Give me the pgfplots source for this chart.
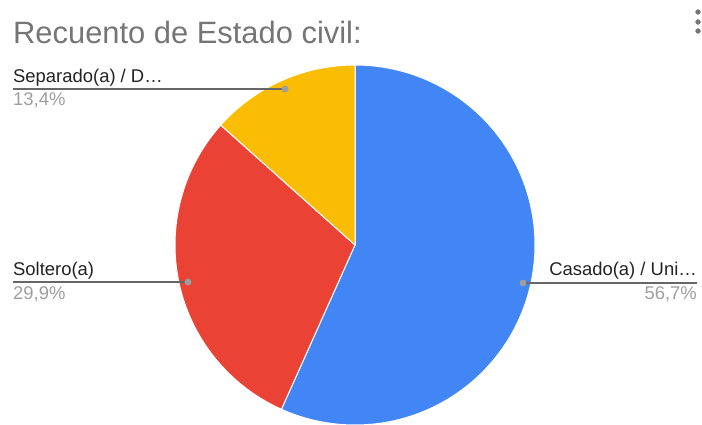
\documentclass[border=0pt]{standalone}
\usepackage{pgfplots}
\pgfplotsset{compat=1.18}
\usepackage{pgfplotstable}
\usepackage{fontspec}
\setmainfont{Liberation Sans}

\definecolor{cblue}{HTML}{4285F4}
\definecolor{cred}{HTML}{EA4335}
\definecolor{cyellow}{HTML}{FBBC04}
\definecolor{ctitle}{HTML}{757575}
\definecolor{clabel}{HTML}{222222}
\definecolor{cpct}{HTML}{9E9E9E}
\definecolor{cline}{HTML}{666666}

% share of each civil status (%)
\pgfplotstableread{
label    pct
Casado   56.7
Soltero  29.9
Separado 13.4
}\civil

\begin{document}
\begin{tikzpicture}
\pgfplotstablegetelem{0}{pct}\of\civil \let\pA\pgfplotsretval
\pgfplotstablegetelem{1}{pct}\of\civil \let\pB\pgfplotsretval
\pgfplotstablegetelem{2}{pct}\of\civil \let\pC\pgfplotsretval
% slice boundaries, clockwise from 12 o'clock
\pgfmathsetmacro\aA{90-3.6*\pA}
\pgfmathsetmacro\aB{\aA-3.6*\pB}
\pgfmathsetmacro\aC{\aB-3.6*\pC}
\begin{axis}[
  hide axis, scale only axis, clip=false,
  width=702bp, height=425bp,
  xmin=0, xmax=702, ymin=0, ymax=425,
]
% pie, centre (355,180), radius 180
\addplot[fill=cblue, draw=white, line width=1pt, domain=\aA:90, samples=150, variable=\t]
  ({355+180*cos(\t)}, {180+180*sin(\t)}) -- (axis cs:355,180) -- cycle;
\addplot[fill=cred, draw=white, line width=1pt, domain=\aB:\aA, samples=100, variable=\t]
  ({355+180*cos(\t)}, {180+180*sin(\t)}) -- (axis cs:355,180) -- cycle;
\addplot[fill=cyellow, draw=white, line width=1pt, domain=\aC:\aB, samples=60, variable=\t]
  ({355+180*cos(\t)}, {180+180*sin(\t)}) -- (axis cs:355,180) -- cycle;

% leader lines
\addplot[cline, line width=1.1pt] coordinates {(13,336) (285,336)};
\addplot[cline, line width=1.1pt] coordinates {(13,143) (188,143)};
\addplot[cline, line width=1.1pt] coordinates {(523,142) (697,142)};
\addplot[only marks, mark=*, mark size=3.2bp, cpct] coordinates {(285,336) (188,143) (523,142)};

% menu dots
\addplot[only marks, mark=*, mark size=2.4bp, ctitle] coordinates {(698,413) (698,403) (698,394)};

% texts
\node[anchor=base west, inner sep=0, text=ctitle, font=\fontsize{31}{34}\selectfont]
  at (axis cs:13,381) {Recuento de Estado civil:};
\node[anchor=base west, inner sep=0, text=clabel, font=\fontsize{18.5}{21}\selectfont]
  at (axis cs:13,342) {Separado(a) / D…};
\node[anchor=base west, inner sep=0, text=cpct, font=\fontsize{18.5}{21}\selectfont]
  at (axis cs:13,319) {13,4\%};
\node[anchor=base west, inner sep=0, text=clabel, font=\fontsize{18.5}{21}\selectfont]
  at (axis cs:13,149) {Soltero(a)};
\node[anchor=base west, inner sep=0, text=cpct, font=\fontsize{18.5}{21}\selectfont]
  at (axis cs:13,125) {29,9\%};
\node[anchor=base east, inner sep=0, text=clabel, font=\fontsize{18.5}{21}\selectfont]
  at (axis cs:697,149) {Casado(a) / Uni…};
\node[anchor=base east, inner sep=0, text=cpct, font=\fontsize{18.5}{21}\selectfont]
  at (axis cs:697,125) {56,7\%};
\end{axis}
\pgfresetboundingbox
\path (current axis.south west) rectangle (current axis.north east);
\end{tikzpicture}
\end{document}
